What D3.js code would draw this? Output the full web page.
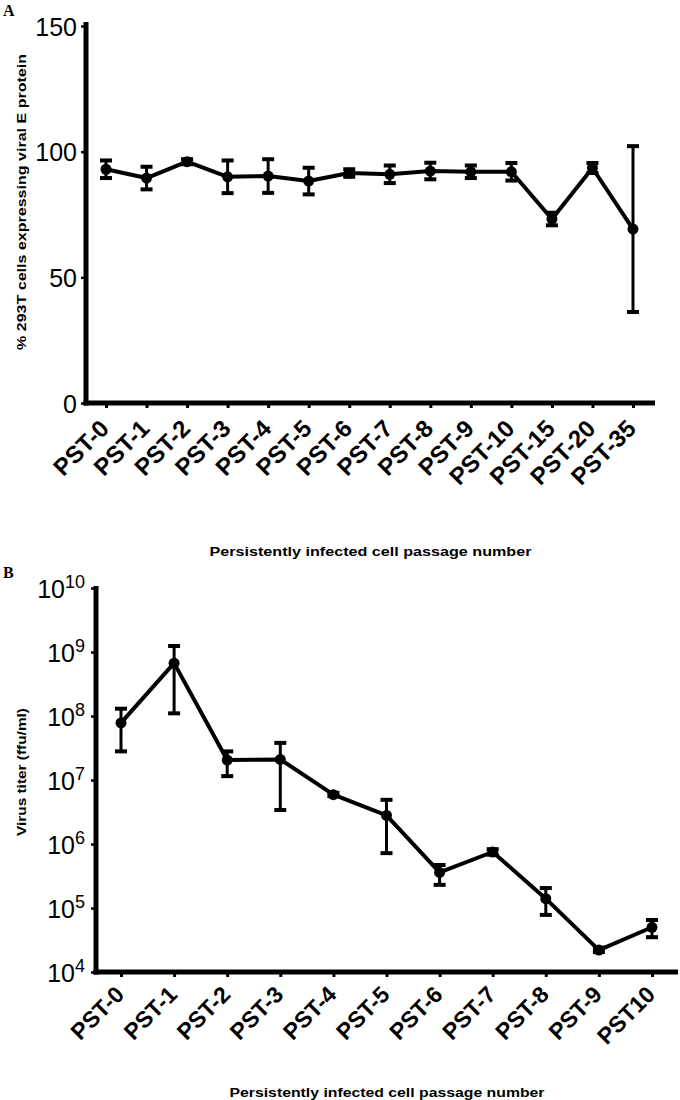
<!DOCTYPE html>
<html>
<head>
<meta charset="utf-8">
<script src="https://cdn.jsdelivr.net/npm/d3@7/dist/d3.min.js"></script>
<style>
  html, body { margin: 0; padding: 0; background: #fff; }
  svg { display: block; }
</style>
</head>
<body>
<div id="chart"></div>
<script>
// ---------- Data ----------
const categoriesA = ["PST-0","PST-1","PST-2","PST-3","PST-4","PST-5","PST-6","PST-7","PST-8","PST-9","PST-10","PST-15","PST-20","PST-35"];
const meanA = [93, 89.5, 96, 90, 90.3, 88.3, 91.5, 91, 92.3, 92, 92, 73.2, 93.5, 69.2];
const errA  = [3.5, 4.5, 1, 6.5, 6.7, 5.3, 1.5, 3.5, 3.3, 2.5, 3.5, 2.5, 2, 33];
const yTicksA = [0, 50, 100, 150];

const categoriesB = ["PST-0","PST-1","PST-2","PST-3","PST-4","PST-5","PST-6","PST-7","PST-8","PST-9","PST10"];
const meanB = [7.8e7, 6.7e8, 2.05e7, 2.1e7, 5.9e6, 2.8e6, 3.6e5, 7.5e5, 1.4e5, 2.2e4, 5.0e4];
const lowB  = [2.8e7, 1.1e8, 1.15e7, 3.4e6, 5.6e6, 7.2e5, 2.3e5, 6.8e5, 7.8e4, 2.05e4, 3.5e4];
const highB = [1.3e8, 1.24e9, 2.8e7, 3.8e7, 6.3e6, 4.9e6, 4.7e5, 8.3e5, 2.05e5, 2.4e4, 6.5e4];
const yTicksB = [1e4, 1e5, 1e6, 1e7, 1e8, 1e9, 1e10];

const xTitle = "Persistently infected cell passage number";
const yTitleA = "% 293T cells expressing viral E protein";
const yTitleB = "Virus titer (ffu/ml)";

// ---------- Setup ----------
const W = 680, H = 1100;
const FONT = "'Liberation Sans', Arial, Helvetica, sans-serif";
const svg = d3.select("#chart").append("svg").attr("width", W).attr("height", H);

function drawPanel(opts) {
  const { cats, y, xRange, yAxisX, xAxisY, yTop, xEnd, labelOffset, tickFormatter } = opts;
  const x = d3.scalePoint().domain(cats).range(xRange);
  const g = svg.append("g");

  // y axis ticks & labels
  const yAx = d3.axisLeft(y).tickValues(opts.yTicks).tickSize(5).tickSizeOuter(0).tickPadding(3).tickFormat(() => "");
  const yg = g.append("g").attr("transform", `translate(${yAxisX},0)`).call(yAx);
  yg.select(".domain").remove();
  yg.selectAll(".tick line").attr("stroke", "#000").attr("stroke-width", 2.5);
  yg.selectAll(".tick text").each(function(d) {
    const t = d3.select(this).attr("x", -9).attr("dy", "0.36em")
      .attr("font-family", FONT).attr("font-size", 25).attr("fill", "#000").attr("text-anchor", "end");
    tickFormatter(t, d);
  });

  // x axis ticks & labels
  const xAx = d3.axisBottom(x).tickSize(5).tickSizeOuter(0);
  const xg = g.append("g").attr("transform", `translate(0,${xAxisY})`).call(xAx);
  xg.select(".domain").remove();
  xg.selectAll(".tick line").attr("stroke", "#000").attr("stroke-width", 3);
  xg.selectAll(".tick text")
    .attr("x", 0).attr("y", 0).attr("dy", 0)
    .attr("transform", `translate(${labelOffset[0]},${labelOffset[1]}) rotate(-45)`)
    .attr("text-anchor", "end")
    .attr("font-family", FONT).attr("font-size", opts.xLabelSize).attr("font-weight", "bold").attr("fill", "#000");

  // axis lines
  g.append("line").attr("x1", yAxisX).attr("x2", yAxisX).attr("y1", yTop).attr("y2", xAxisY + 2.5)
    .attr("stroke", "#000").attr("stroke-width", 5);
  g.append("line").attr("x1", yAxisX - 2.5).attr("x2", xEnd).attr("y1", xAxisY).attr("y2", xAxisY)
    .attr("stroke", "#000").attr("stroke-width", 5);

  // data
  const pts = cats.map((c, i) => ({ c, m: opts.mean[i], lo: opts.lo[i], hi: opts.hi[i] }));
  const line = d3.line().x(d => x(d.c)).y(d => y(d.m));
  g.append("path").datum(pts).attr("d", line).attr("fill", "none")
    .attr("stroke", "#000").attr("stroke-width", 4).attr("stroke-linejoin", "round");

  const eb = g.append("g").selectAll("g").data(pts).join("g");
  eb.append("line").attr("x1", d => x(d.c)).attr("x2", d => x(d.c))
    .attr("y1", d => y(d.lo)).attr("y2", d => y(d.hi)).attr("stroke", "#000").attr("stroke-width", 3);
  eb.append("line").attr("x1", d => x(d.c) - 6).attr("x2", d => x(d.c) + 6)
    .attr("y1", d => y(d.hi)).attr("y2", d => y(d.hi)).attr("stroke", "#000").attr("stroke-width", 4);
  eb.append("line").attr("x1", d => x(d.c) - 6).attr("x2", d => x(d.c) + 6)
    .attr("y1", d => y(d.lo)).attr("y2", d => y(d.lo)).attr("stroke", "#000").attr("stroke-width", 4);
  eb.append("circle").attr("cx", d => x(d.c)).attr("cy", d => y(d.m)).attr("r", 5.5).attr("fill", "#000");

  // titles
  g.append("text").attr("x", (yAxisX + xEnd) / 2).attr("y", opts.xTitleY)
    .attr("text-anchor", "middle").attr("font-family", FONT).attr("font-size", 13).attr("font-weight", "bold")
    .attr("textLength", opts.xTitleLen).attr("lengthAdjust", "spacingAndGlyphs")
    .text(xTitle);
  g.append("text").attr("transform", `translate(${opts.yTitleX},${opts.yTitleCY}) rotate(-90)`)
    .attr("text-anchor", "middle").attr("font-family", FONT).attr("font-size", 12).attr("font-weight", "bold")
    .attr("textLength", opts.yTitleLen).attr("lengthAdjust", "spacingAndGlyphs")
    .text(opts.yTitle);
  g.append("text").attr("x", opts.letterPos[0]).attr("y", opts.letterPos[1])
    .attr("font-family", "'Liberation Serif', 'Times New Roman', serif").attr("font-size", 16).attr("font-weight", "bold")
    .text(opts.letter);
}

// Panel A
const yA = d3.scaleLinear().domain([0, 150]).range([403, 26]);
drawPanel({
  cats: categoriesA, y: yA, yTicks: yTicksA, xRange: [106, 633], yAxisX: 86, xAxisY: 403, yTop: 22, xEnd: 655,
  labelOffset: [4, 27], xLabelSize: 24,
  mean: meanA, lo: meanA.map((m, i) => m - errA[i]), hi: meanA.map((m, i) => m + errA[i]),
  tickFormatter: (t, d) => t.text(d),
  xTitleY: 556, xTitleLen: 322, yTitle: yTitleA, yTitleX: 26, yTitleCY: 202, yTitleLen: 296,
  letter: "A", letterPos: [3, 16]
});

// Panel B
const yB = d3.scaleLog().domain([1e4, 1e10]).range([972, 588]);
drawPanel({
  cats: categoriesB, y: yB, yTicks: yTicksB, xRange: [121, 652], yAxisX: 96, xAxisY: 972, yTop: 586, xEnd: 678,
  labelOffset: [4, 24], xLabelSize: 23,
  mean: meanB, lo: lowB, hi: highB,
  tickFormatter: (t, d) => {
    t.attr("x", -11);
    t.append("tspan").text("10");
    t.append("tspan").attr("font-size", 18).attr("dy", "-0.55em").text(Math.round(Math.log10(d)));
  },
  xTitleY: 1097, xTitleLen: 315, yTitle: yTitleB, yTitleX: 26, yTitleCY: 772, yTitleLen: 128,
  letter: "B", letterPos: [3, 578]
});
</script>
</body>
</html>
